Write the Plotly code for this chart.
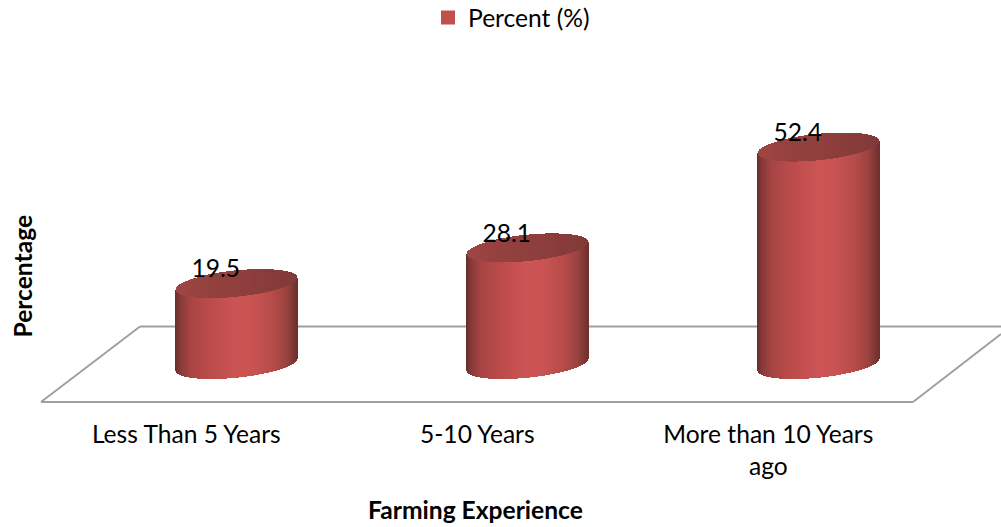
import numpy as np
import plotly.graph_objects as go

# Chart data
categories = ["Less Than 5 Years", "5-10 Years", "More than 10 Years<br>ago"]
percent = [19.5, 28.1, 52.4]
series_name = "Percent (%)"
x_title = "Farming Experience"
y_title = "Percentage"

W, H = 1001, 527
PLOT_BOTTOM = 415          # pixel row of the hidden x axis
CAT_PX = 291.0             # pixels per category step
X0_PX = 236.3              # pixel column of the first cylinder
Y0_PX = 364.5              # pixel row of value zero
UNIT_PX = 4.15             # pixels per percentage point
FONT = "Lato"
FONT_SIZE = 24.6

# Cylinder geometry, in axis units
half_width = 60.5 / CAT_PX
ellipse_b = 13.2 / UNIT_PX
ellipse_tilt = 6.0 / UNIT_PX
n_strips = 123

# Shading stops across the cylinder body and its top face
body_stops = [(0.0, (104, 46, 46)), (0.03, (130, 56, 55)), (0.12, (168, 69, 68)),
              (0.30, (188, 76, 75)), (0.50, (204, 84, 84)), (0.62, (203, 84, 83)),
              (0.80, (182, 76, 73)), (0.92, (154, 66, 63)), (1.0, (112, 48, 46))]
top_stops = [(0.0, (160, 70, 68)), (0.25, (148, 65, 63)), (0.6, (142, 62, 60)),
             (1.0, (128, 58, 56))]


def shade(stops, t):
    pos = [s[0] for s in stops]
    rgb = [np.interp(t, pos, [s[1][c] for s in stops]) for c in range(3)]
    return "rgb(%d,%d,%d)" % tuple(int(round(v)) for v in rgb)


u = np.linspace(-1, 1, n_strips)
t = (u + 1) / 2
arc = np.sqrt(np.clip(1 - u ** 2, 0, 1))
body_colors = [shade(body_stops, v) for v in t]
top_colors = [shade(top_stops, v) for v in t]
strip_w = 2 * half_width / (n_strips - 1) * 1.25

fig = go.Figure()

# Legend entry
fig.add_trace(go.Bar(x=[None], y=[None], name=series_name,
                     marker=dict(color="#c0504d", line=dict(color="#c0504d", width=2))))

for i, value in enumerate(percent):
    xs = i + u * half_width
    front = ellipse_tilt * u - ellipse_b * arc
    # Body: every strip is exactly `value` tall, starting on the lower ellipse
    fig.add_trace(go.Bar(x=xs, y=[value] * n_strips, base=front, width=strip_w,
                         marker=dict(color=body_colors, line=dict(width=0)),
                         showlegend=False, hoverinfo="skip"))
    # Top face: strips spanning the ellipse centred on the value
    fig.add_trace(go.Bar(x=xs, y=2 * ellipse_b * arc, base=value + front, width=strip_w,
                         marker=dict(color=top_colors, line=dict(width=0)),
                         showlegend=False, hoverinfo="skip"))

# Value labels sit up and to the left of each cylinder's centre
fig.add_trace(go.Scatter(x=[i - 20.5 / CAT_PX for i in range(len(percent))],
                         y=[v + 3.0 for v in percent],
                         text=[str(v) for v in percent], mode="text",
                         textposition="middle center",
                         textfont=dict(family=FONT, size=FONT_SIZE, color="#000000"),
                         showlegend=False, hoverinfo="skip"))


def px(x):
    return x / W


def py(y):
    return 1 - y / PLOT_BOTTOM


# Floor of the 3D plot area
floor = [((41, 402), (140, 326.5)), ((140, 326.5), (1001, 326.5)),
         ((41, 402), (913, 402)), ((913, 402), (1001, 334))]
shapes = [dict(type="line", xref="paper", yref="paper",
               x0=px(a[0]), y0=py(a[1]), x1=px(b[0]), y1=py(b[1]),
               line=dict(color="#a0a0a0", width=2), layer="below")
          for a, b in floor]

fig.update_layout(
    width=W, height=H,
    margin=dict(l=0, r=0, t=0, b=H - PLOT_BOTTOM, autoexpand=False),
    paper_bgcolor="white", plot_bgcolor="rgba(0,0,0,0)",
    barmode="overlay", bargap=0,
    font=dict(family=FONT, size=FONT_SIZE, color="#000000"),
    xaxis=dict(range=[-X0_PX / CAT_PX, (W - X0_PX) / CAT_PX], showgrid=False,
               zeroline=False, showline=False, ticks="",
               tickmode="array", tickvals=[i - 50 / CAT_PX for i in range(len(categories))],
               ticktext=categories, ticklabelstandoff=2,
               tickfont=dict(family=FONT, size=FONT_SIZE, color="#000000")),
    yaxis=dict(range=[-(PLOT_BOTTOM - Y0_PX) / UNIT_PX, Y0_PX / UNIT_PX], visible=False),
    showlegend=True,
    legend=dict(orientation="h", x=0.511, xanchor="center", y=1.012, yanchor="top",
                font=dict(family=FONT, size=FONT_SIZE), bgcolor="rgba(0,0,0,0)"),
    shapes=shapes,
    annotations=[
        dict(text="<b>%s</b>" % x_title, xref="paper", yref="paper", x=px(475.5), y=py(509),
             xanchor="center", yanchor="middle", showarrow=False,
             font=dict(family=FONT, size=FONT_SIZE)),
        dict(text="<b>%s</b>" % y_title, xref="paper", yref="paper", x=px(22), y=py(276.5),
             xanchor="center", yanchor="middle", textangle=-90, showarrow=False,
             font=dict(family=FONT, size=FONT_SIZE)),
    ],
)

fig.write_html("out.html")
